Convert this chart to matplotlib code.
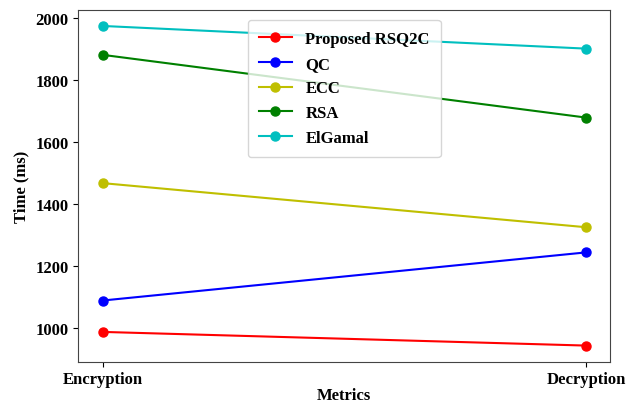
import matplotlib
matplotlib.use('Agg')
import matplotlib.pyplot as plt

# data
metrics = ['Encryption', 'Decryption']
rsq2c = [988, 944]
qc = [1089, 1244]
ecc = [1467, 1325]
rsa = [1880, 1678]
elgamal = [1973, 1900]

plt.rcParams['font.family'] = ['Liberation Serif', 'DejaVu Serif']
plt.rcParams['font.weight'] = 'bold'

fig = plt.figure(figsize=(6.37, 4.06), dpi=100)
ax = fig.add_axes([0.123, 0.107, 0.835, 0.866])

ax.plot(metrics, rsq2c, 'r-o', ms=6.5, label='Proposed RSQ2C')
ax.plot(metrics, qc, 'b-o', ms=6.5, label='QC')
ax.plot(metrics, ecc, 'y-o', ms=6.5, label='ECC')
ax.plot(metrics, rsa, 'g-o', ms=6.5, label='RSA')
ax.plot(metrics, elgamal, 'c-o', ms=6.5, label='ElGamal')

ax.set_xlabel('Metrics', fontsize=12, fontweight='bold', labelpad=0)
ax.set_ylabel('Time (ms)', fontsize=12, fontweight='bold')
ax.tick_params(labelsize=12)
for t in ax.get_xticklabels() + ax.get_yticklabels():
    t.set_fontweight('bold')
for s in ax.spines.values():
    s.set_color('#444444')

ax.legend(loc='upper center', prop={'weight': 'bold', 'size': 12},
          borderpad=0.65, labelspacing=0.53, borderaxespad=0.6)

fig.savefig('out.png', dpi=100)
